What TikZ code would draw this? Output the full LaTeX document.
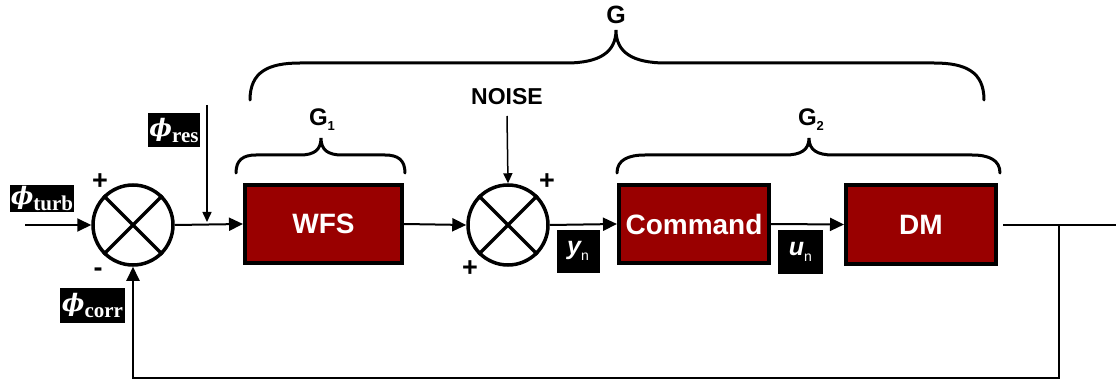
\documentclass[tikz,border=0pt]{standalone}
\usepackage{fontspec}
\setmainfont{Liberation Sans}
\newfontfamily\serif{Liberation Serif}
\newfontfamily\dvserif{DejaVu Serif}
\usetikzlibrary{arrows.meta}
\definecolor{boxred}{RGB}{153,0,0}
\newcommand\philab[1]{{\dvserif\bfseries\itshape\fontsize{24}{24}\selectfont ϕ}{\serif\bfseries\fontsize{21}{21}\selectfont\raisebox{-6pt}{#1}}}
\newcommand\varlab[1]{{\bfseries\itshape\fontsize{25}{25}\selectfont #1}{\fontsize{14}{14}\selectfont\raisebox{-6pt}{n}}}
\begin{document}
\begin{tikzpicture}[x=1pt,y=-1pt,
  blk/.style={draw=black, line width=4pt, fill=boxred, text=white, font=\fontsize{28}{28}\selectfont\bfseries, minimum height=78pt, inner sep=0pt},
  sum/.style={circle, draw, line width=3.5pt, minimum size=80pt, inner sep=0pt},
  lab/.style={fill=black, text=white, inner sep=0pt},
  sgn/.style={font=\fontsize{27}{27}\selectfont\bfseries, inner sep=0pt},
  conn/.style={line width=2pt, -{Triangle[length=14pt,width=13pt]}},
  thinarrow/.style={line width=1.5pt, -{Triangle[length=10pt,width=9pt]}},
  brace/.style={line width=3pt, line cap=round},
  ttl/.style={font=\fontsize{24}{24}\selectfont\bfseries, inner sep=0pt}
]
\useasboundingbox (0,0) rectangle (1120,385);

% summing junctions
\node[sum] (s1) at (133,225) {};
\draw[line width=3.5pt] (s1.north west) -- (s1.south east) (s1.north east) -- (s1.south west);
\node[sum] (s2) at (508,225) {};
\draw[line width=3.5pt] (s2.north west) -- (s2.south east) (s2.north east) -- (s2.south west);

% blocks
\node[blk, minimum width=157pt] (wfs) at (323.5,224) {WFS};
\node[blk, minimum width=150pt] (cmd) at (694,224) {Command};
\node[blk, minimum width=150pt] (dm) at (921,224.5) {DM};

% labels
\node[lab, minimum width=64pt, minimum height=27pt] (pturb) at (42,198.5) {\philab{turb}};
\node[lab, minimum width=65pt, minimum height=35pt] (pcorr) at (92.5,305.5) {\philab{corr}};
\node[lab, minimum width=52pt, minimum height=34pt] (pres) at (174,130) {\philab{res}};
\node[lab, minimum width=43pt, minimum height=43pt] (yn) at (578,251) {\varlab{y}};
\node[lab, minimum width=45pt, minimum height=44pt] (un) at (800.5,252) {\varlab{u}};

% signs
\node[sgn] (p1) at (100,182) {+};
\node[sgn] (m1) at (98,272) {-};
\node[sgn] (p2) at (547,182) {+};
\node[sgn] (p3) at (470,269) {+};

% titles
\node[ttl, font=\fontsize{23}{23}\selectfont\bfseries] (noise) at (507,97) {NOISE};
\node[ttl, font=\fontsize{25}{25}\selectfont\bfseries] (g) at (616,15) {G};
\node[ttl] (g1) at (322,120) {G{\fontsize{13}{13}\selectfont\raisebox{-5pt}{1}}};
\node[ttl] (g2) at (811,120) {G{\fontsize{13}{13}\selectfont\raisebox{-5pt}{2}}};

% braces
\draw[brace] (250,100) .. controls (250,72) and (268,63) .. (300,63) -- (566,63) .. controls (600,63) and (616,52) .. (616,30) .. controls (616,52) and (632,63) .. (666,63) -- (934,63) .. controls (966,63) and (984,72) .. (984,100);
\draw[brace] (236,173) .. controls (236,160) and (243,155) .. (256,155) -- (300,155) .. controls (314,155) and (321,150) .. (321,138) .. controls (321,150) and (328,155) .. (342,155) -- (385,155) .. controls (398,155) and (405,160) .. (405,173);
\draw[brace] (617,173) .. controls (617,160) and (628,155) .. (645,155) -- (785,155) .. controls (801,155) and (809,150) .. (809,138) .. controls (809,150) and (817,155) .. (833,155) -- (972,155) .. controls (989,155) and (1000,160) .. (1000,173);

% connectors
\coordinate (in) at (25,225);
\coordinate (r1) at (207,105);
\coordinate (r2) at (207,222);
\coordinate (n1) at (507,116);
\coordinate (o1) at (1003,225);
\coordinate (o2) at (1116,225);
\coordinate (j) at (1059,225);
\coordinate (fb) at (133,378);

\draw[conn] (in) -- (s1.west);
\draw[conn] (s1.east) -- (wfs.west);
\draw[thinarrow] (r1) -- (r2);
\draw[conn] (wfs.east) -- (s2.west);
\draw[thinarrow] (n1) -- (s2.north);
\draw[conn] (s2.east) -- (cmd.west);
\draw[conn] (cmd.east) -- (dm.west);
\draw[line width=2pt] (o1) -- (o2);
\draw[conn] (j) -- (j|-fb) -- (fb) -- (s1.south);
\end{tikzpicture}
\end{document}
